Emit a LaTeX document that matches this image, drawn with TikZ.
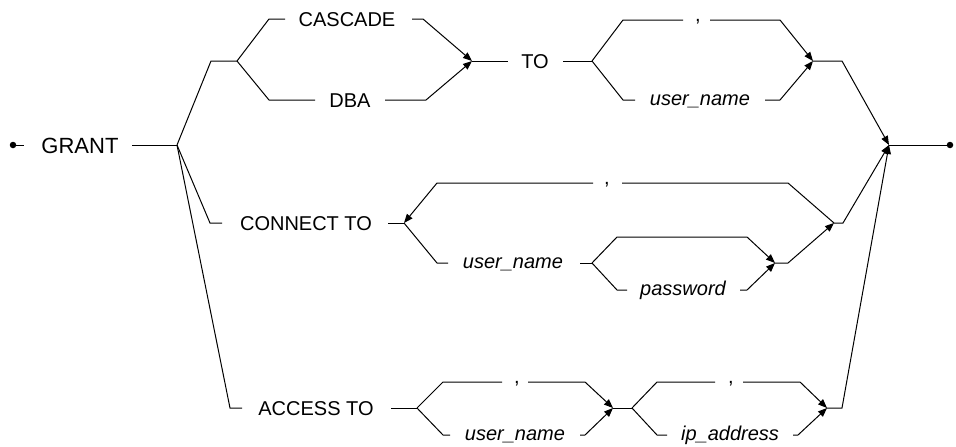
\documentclass[tikz,border=0pt]{standalone}
\usepackage{fontspec}
\setmainfont{Liberation Sans}
\usetikzlibrary{arrows.meta}
\begin{document}
\begin{tikzpicture}[x=1pt,y=-1pt,
  rail/.style={line width=1pt, line join=miter},
  arr/.style={rail,-{Triangle[length=9pt,width=7pt]}},
  kw/.style={inner sep=0pt, anchor=base, font=\fontsize{20}{24}\selectfont},
  var/.style={inner sep=0pt, anchor=base, font=\fontsize{20}{24}\selectfont\itshape},
  big/.style={inner sep=0pt, anchor=base, font=\fontsize{22}{26}\selectfont},
  dotst/.style={circle, fill, inner sep=0pt, minimum size=6.5pt}]
\useasboundingbox (0,0) rectangle (956,447);

% start
\node[dotst] (s) at (13,145) {};
\coordinate (s1) at (24,145);
\node[big] (grant) at (80,153) {GRANT};
\coordinate (g1) at (132,145);
\coordinate (B) at (177,145);

% CASCADE / DBA
\coordinate (b1) at (211,61); \coordinate (F1) at (237,61);
\coordinate (c0) at (269,19); \coordinate (c1) at (285,19);
\node[kw] (cascade) at (347,26) {CASCADE};
\coordinate (c2) at (412,19); \coordinate (c3) at (423,19);
\coordinate (J1) at (472,61);
\coordinate (d0) at (269,100); \coordinate (d1) at (315,100);
\node[kw] (dba) at (350,107) {DBA};
\coordinate (d2) at (385,100); \coordinate (d3) at (426,100);
\coordinate (t1) at (508,61);
\node[kw] (to) at (535,68) {TO};
\coordinate (t2) at (563,61); \coordinate (F2) at (592,61);
\coordinate (k0) at (623,20); \coordinate (k1) at (683,20);
\node[kw] (comma1) at (698,21) {,};
\coordinate (k2) at (710,20); \coordinate (k3) at (780,20);
\coordinate (J2) at (813,61);
\coordinate (u0) at (623,100); \coordinate (u1) at (635,100);
\node[var] (user1) at (700,105) {user\_name};
\coordinate (u2) at (765,100); \coordinate (u3) at (780,100);
\coordinate (r1) at (842,61);
\coordinate (E) at (889,145);
\node[dotst] (e) at (950,145) {};

% CONNECT TO
\coordinate (n0) at (210,223); \coordinate (n1) at (222,223);
\node[kw] (connect) at (306,230) {CONNECT TO};
\coordinate (n2) at (388,223); \coordinate (F3) at (404,223);
\coordinate (L0) at (437,183); \coordinate (L1) at (593,183);
\node[kw] (comma2) at (607,184) {,};
\coordinate (L2) at (622,183); \coordinate (L3) at (788,183);
\coordinate (J3) at (834,223); \coordinate (r2) at (843,223);
\coordinate (p0) at (437,263); \coordinate (p1) at (448,263);
\node[var] (user2) at (513,268) {user\_name};
\coordinate (p2) at (580,263); \coordinate (F4) at (592,263);
\coordinate (q0) at (617,237); \coordinate (q1) at (747,237);
\coordinate (J4) at (775,263);
\coordinate (w0) at (617,290); \coordinate (w1) at (627,290);
\node[var] (pass) at (683,295) {password};
\coordinate (w2) at (740,290); \coordinate (w3) at (747,290);
\coordinate (j4a) at (788,263);

% ACCESS TO
\coordinate (a0) at (230,408); \coordinate (a1) at (242,408);
\node[kw] (access) at (316,415) {ACCESS TO};
\coordinate (a2) at (391,408); \coordinate (F5) at (417,408);
\coordinate (m0) at (443,382); \coordinate (m1) at (502,382);
\node[kw] (comma3) at (517,383) {,};
\coordinate (m2) at (528,382); \coordinate (m3) at (585,382);
\coordinate (J5) at (613,408);
\coordinate (v0) at (443,435); \coordinate (v1) at (450,435);
\node[var] (user3) at (515,440) {user\_name};
\coordinate (v2) at (580,435); \coordinate (v3) at (585,435);
\coordinate (F6) at (632,408);
\coordinate (h0) at (657,382); \coordinate (h1) at (715,382);
\node[kw] (comma4) at (731,383) {,};
\coordinate (h2) at (743,382); \coordinate (h3) at (800,382);
\coordinate (J6) at (827,408);
\coordinate (i0) at (657,435); \coordinate (i1) at (667,435);
\node[var] (ip) at (730,440) {ip\_address};
\coordinate (i2) at (793,435); \coordinate (i3) at (798,435);
\coordinate (r3) at (842,408);

% rails
\draw[rail] (s) -- (s1);
\draw[rail] (g1) -- (B);
\draw[rail] (B) -- (b1) -- (F1);
\draw[rail] (F1) -- (c0) -- (c1);
\draw[arr] (c2) -- (c3) -- (J1);
\draw[rail] (F1) -- (d0) -- (d1);
\draw[arr] (d2) -- (d3) -- (J1);
\draw[rail] (J1) -- (t1);
\draw[rail] (t2) -- (F2);
\draw[rail] (F2) -- (k0) -- (k1);
\draw[arr] (k2) -- (k3) -- (J2);
\draw[rail] (F2) -- (u0) -- (u1);
\draw[arr] (u2) -- (u3) -- (J2);
\draw[arr] (J2) -- (r1) -- (E);
\draw[rail] (E) -- (e);

\draw[rail] (B) -- (n0) -- (n1);
\draw[rail] (n2) -- (F3);
\draw[rail] (J3) -- (L3) -- (L2);
\draw[arr] (L1) -- (L0) -- (F3);
\draw[rail] (F3) -- (p0) -- (p1);
\draw[rail] (p2) -- (F4);
\draw[arr] (F4) -- (q0) -- (q1) -- (J4);
\draw[rail] (F4) -- (w0) -- (w1);
\draw[arr] (w2) -- (w3) -- (J4);
\draw[arr] (J4) -- (j4a) -- (J3);
\draw[arr] (J3) -- (r2) -- (E);

\draw[rail] (B) -- (a0) -- (a1);
\draw[rail] (a2) -- (F5);
\draw[rail] (F5) -- (m0) -- (m1);
\draw[arr] (m2) -- (m3) -- (J5);
\draw[rail] (F5) -- (v0) -- (v1);
\draw[arr] (v2) -- (v3) -- (J5);
\draw[rail] (J5) -- (F6);
\draw[rail] (F6) -- (h0) -- (h1);
\draw[arr] (h2) -- (h3) -- (J6);
\draw[rail] (F6) -- (i0) -- (i1);
\draw[arr] (i2) -- (i3) -- (J6);
\draw[arr] (J6) -- (r3) -- (E);
\end{tikzpicture}
\end{document}
